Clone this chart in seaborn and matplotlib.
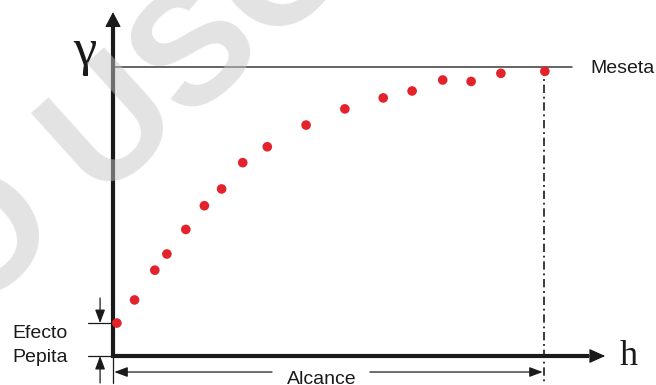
import matplotlib
matplotlib.use("Agg")
import matplotlib.pyplot as plt
import seaborn as sns
import pandas as pd

# Experimental semivariogram: lag distance h and semivariance gamma
lag_h = [0.9, 5.0, 9.7, 12.5, 16.9, 21.2, 25.2, 30.1, 35.8, 44.8,
         53.8, 62.7, 69.4, 76.5, 83.1, 90.0, 100.2]
gamma = [0.114, 0.194, 0.297, 0.353, 0.438, 0.520, 0.578, 0.669, 0.724,
         0.799, 0.855, 0.893, 0.917, 0.955, 0.950, 0.978, 0.985]

nugget = 0.114      # Efecto Pepita
sill = 1.0          # Meseta
rango = 100.0       # Alcance

labels = {"sill": "Meseta", "range": "Alcance", "nugget": ["Efecto", "Pepita"],
          "y": "γ", "x": "h"}

df = pd.DataFrame({"h": lag_h, "gamma": gamma})

sns.set_style("white")
plt.rcParams["font.family"] = ["Liberation Sans", "DejaVu Sans"]

W, H = 656, 385
fig = plt.figure(figsize=(W / 100, H / 100), dpi=100)
ax = fig.add_axes([0, 0, 1, 1])
ax.set_xlim(-26.22, 125.99)
ax.set_ylim(-0.1003, 1.2318)
ax.axis("off")

ink = "#1a1a1a"

# main axes with arrow heads
ax.plot([0, 0], [-0.006, 1.15], color=ink, lw=3.0, solid_capstyle="butt", zorder=3)
ax.plot([-0.4, 110.5], [0, 0], color=ink, lw=3.0, solid_capstyle="butt", zorder=3)
ax.annotate("", xy=(0, 1.190), xytext=(0, 1.13),
            arrowprops=dict(arrowstyle="-|>,head_length=0.95,head_width=0.5",
                            color=ink, lw=0.8, shrinkA=0, shrinkB=0), zorder=3)
ax.annotate("", xy=(114.2, 0), xytext=(109.0, 0),
            arrowprops=dict(arrowstyle="-|>,head_length=1.0,head_width=0.45",
                            color=ink, lw=0.8, shrinkA=0, shrinkB=0), zorder=3)

# sill line and label
ax.plot([0, 106.5], [sill, sill], color="#3a3a3a", lw=1.1, zorder=2)
ax.text(110.7, 0.979, labels["sill"], fontsize=14, color=ink, ha="left", va="baseline")

# range marker (dash-dot) and dimension line
ax.plot([rango, rango], [sill, -0.0934], color=ink, lw=1.2,
        dashes=(5, 2.2, 1.2, 2.2), zorder=2)
ax.plot([0, 0], [0, -0.0934], color=ink, lw=0.9, zorder=2)
dim_y = -0.0554
ax.annotate("", xy=(0.3, dim_y), xytext=(36.9, dim_y),
            arrowprops=dict(arrowstyle="-|>,head_length=0.8,head_width=0.3",
                            color=ink, lw=0.9, shrinkA=0, shrinkB=0))
ax.annotate("", xy=(rango - 0.3, dim_y), xytext=(59.6, dim_y),
            arrowprops=dict(arrowstyle="-|>,head_length=0.8,head_width=0.3",
                            color=ink, lw=0.9, shrinkA=0, shrinkB=0))
ax.text(48.5, -0.0955, labels["range"], fontsize=14, color=ink,
        ha="center", va="baseline")

# nugget effect dimension
ax.plot([-5.8, 0], [nugget, nugget], color=ink, lw=0.9)
ax.plot([-5.8, 0], [0, 0], color=ink, lw=0.9)
ax.annotate("", xy=(-3.0, nugget), xytext=(-3.0, 0.2007),
            arrowprops=dict(arrowstyle="-|>,head_length=0.8,head_width=0.3",
                            color=ink, lw=0.9, shrinkA=0, shrinkB=0))
ax.annotate("", xy=(-3.0, 0.0), xytext=(-3.0, -0.0934),
            arrowprops=dict(arrowstyle="-|>,head_length=0.8,head_width=0.3",
                            color=ink, lw=0.9, shrinkA=0, shrinkB=0))
ax.text(-23.4, 0.0623, labels["nugget"][0], fontsize=14, color=ink, ha="left", va="baseline")
ax.text(-23.4, -0.0208, labels["nugget"][1], fontsize=14, color=ink, ha="left", va="baseline")

# axis symbols
ax.text(-6.5, 1.007, labels["y"], fontsize=38, color=ink, ha="center", va="baseline",
        family=["Liberation Serif", "DejaVu Serif"])
ax.text(117.6, -0.031, labels["x"], fontsize=26, color=ink, ha="left", va="baseline",
        family=["Liberation Serif", "DejaVu Serif"])

# experimental points
sns.scatterplot(data=df, x="h", y="gamma", ax=ax, color="#e3232b", s=48,
                edgecolor="none", linewidth=0, zorder=5, legend=False)
ax.set_xlim(-26.22, 125.99)
ax.set_ylim(-0.1003, 1.2318)
ax.axis("off")

# watermark
fig.text(138 / W, 1 - 110 / H, "O USO", fontsize=118, color=(0.78, 0.78, 0.78),
         alpha=0.5, rotation=42, ha="center", va="center", rotation_mode="anchor",
         family="Liberation Sans", weight="bold", zorder=10)

fig.savefig("out.png", dpi=100)
